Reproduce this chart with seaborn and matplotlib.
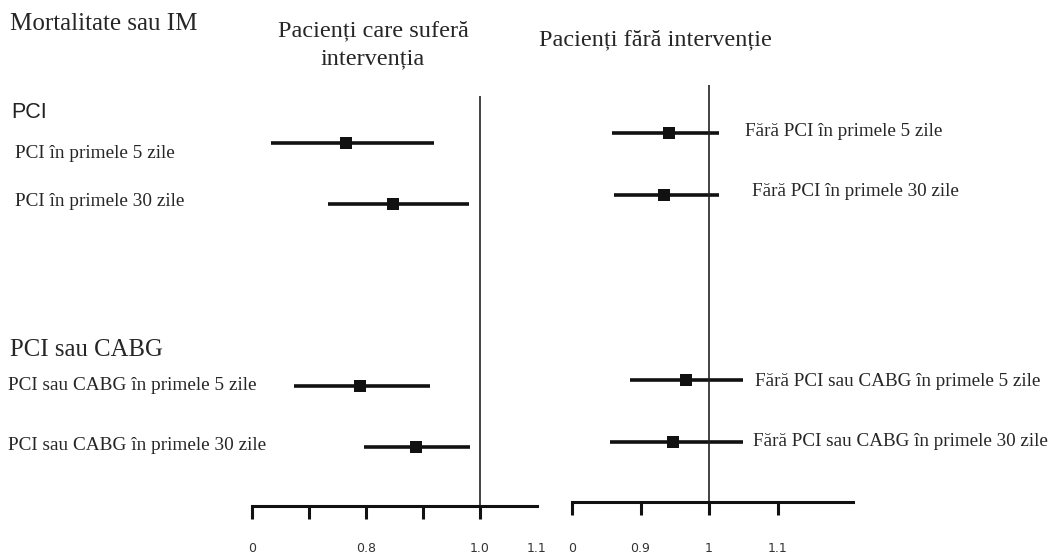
import numpy as np
import pandas as pd
import matplotlib
matplotlib.use('Agg')
import matplotlib.pyplot as plt
import seaborn as sns

# row labels
left_labels = ['PCI în primele 5 zile', 'PCI în primele 30 zile',
               'PCI sau CABG în primele 5 zile', 'PCI sau CABG în primele 30 zile']
right_labels = ['Fără PCI în primele 5 zile', 'Fără PCI în primele 30 zile',
                'Fără PCI sau CABG în primele 5 zile', 'Fără PCI sau CABG în primele 30 zile']

# estimates (left: patients with intervention, right: without)
left_est = [0.765, 0.848, 0.789, 0.887]
left_lo = [0.634, 0.733, 0.674, 0.796]
left_hi = [0.919, 0.981, 0.913, 0.982]

right_est = [0.942, 0.934, 0.966, 0.948]
right_lo = [0.859, 0.862, 0.884, 0.855]
right_hi = [1.015, 1.015, 1.049, 1.049]

rows = [0, 1, 4, 5]  # two groups with a gap between them

left_ticks = [0.6, 0.7, 0.8, 0.9, 1.0, 1.1]
left_ticklabels = ['0', '', '0.8', '', '1.0', '1.1']
right_ticks = [0.8, 0.9, 1.0, 1.1]
right_ticklabels = ['0', '0.9', '1', '1.1']

sns.set_theme(style='white')
plt.rcParams['font.family'] = ['Liberation Serif', 'DejaVu Serif']

W, H = 1061, 559
fig = plt.figure(figsize=(W / 100, H / 100), dpi=100)


def px_axes(x0, y0, x1, y1):
    return fig.add_axes([x0 / W, 1 - y1 / H, (x1 - x0) / W, (y1 - y0) / H])


def forest(ax, est, lo, hi, xlim, ticks, ticklabels):
    df = pd.DataFrame({'row': rows, 'est': est, 'lo': lo, 'hi': hi})
    ax.hlines(df['row'], df['lo'], df['hi'], color='#111111', lw=2.6)
    sns.scatterplot(data=df, x='est', y='row', marker='s', s=70, color='#111111',
                    edgecolor='#111111', linewidth=0, ax=ax, zorder=3)
    ax.axvline(1.0, color='#222222', lw=1.2)
    ax.set_xlim(*xlim)
    ax.set_ylim(5.97, -0.77)
    ax.set_xlabel('')
    ax.set_ylabel('')
    ax.set_yticks([])
    ax.set_xticks(ticks)
    ax.set_xticklabels(ticklabels, family='DejaVu Sans', fontsize=9, color='#333333')
    for s in ['top', 'right', 'left']:
        ax.spines[s].set_visible(False)
    ax.spines['bottom'].set_linewidth(2.2)
    ax.spines['bottom'].set_color('#111111')
    ax.tick_params(axis='x', direction='out', length=9, width=2.2, color='#111111',
                   pad=17, bottom=True)
    ax.patch.set_alpha(0)


ax1 = px_axes(252, 96, 537, 506)
forest(ax1, left_est, left_lo, left_hi, (0.6, 1.1), left_ticks, left_ticklabels)
ax1.xaxis.get_major_ticks()[-1].tick1line.set_visible(False)

ax2 = px_axes(572, 85, 853, 502)
forest(ax2, right_est, right_lo, right_hi, (0.8, 1.21), right_ticks, right_ticklabels)
ax2.tick_params(axis='x', pad=20)


def ftext(x, y, s, **kw):
    fig.text(x / W, 1 - y / H, s, va='center', **kw)


# headers
ftext(10, 24, 'Mortalitate sau IM', fontsize=18)
ftext(373, 45, 'Pacienți care suferă\nintervenția', fontsize=17.5, ha='center',
      linespacing=1.4)
ftext(655, 40, 'Pacienți fără intervenție', fontsize=17.5, ha='center')
ftext(11, 113, 'PCI', fontsize=15.5, family='Liberation Sans', color='#222222')
ftext(10, 350, 'PCI sau CABG', fontsize=17.8)

# left row labels
for y, x, lab in zip([153, 202, 385, 445], [15, 15, 8, 8], left_labels):
    ftext(x, y, lab, fontsize=13.9)

# right row labels
for y, x, lab in zip([132, 192, 381, 442], [745, 752, 755, 753], right_labels):
    ftext(x, y, lab, fontsize=13.8)

fig.savefig('out.png', dpi=100, facecolor='white')
